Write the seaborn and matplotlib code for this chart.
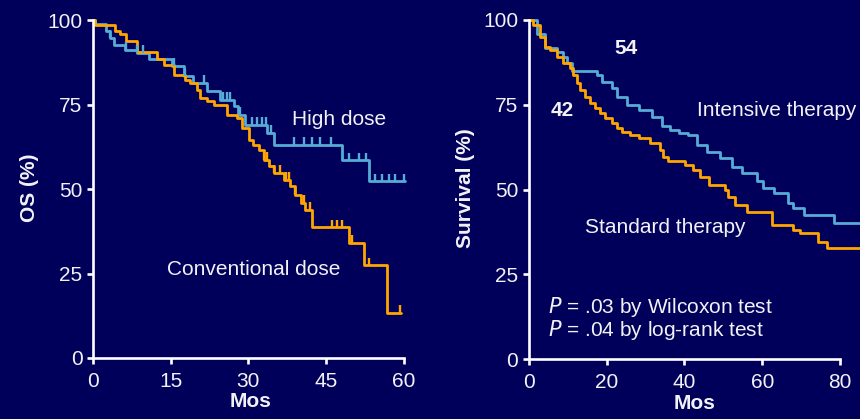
import numpy as np
import pandas as pd
import matplotlib
matplotlib.use("Agg")
import matplotlib.pyplot as plt
import seaborn as sns

# left panel: OS by dose (months, percent)
hd_t = [0, 0.5, 2.6, 3.3, 4.0, 6.2, 8.5, 10.8, 15.3, 17.5, 19.4, 22.0, 24.6, 27.2, 28.1, 29.4, 33.6, 34.9, 48.1, 53.3, 60.3]
hd_s = [100, 99, 96.7, 94.8, 92.8, 91.3, 90.3, 88.4, 86.4, 83.4, 81.4, 79, 76.5, 74.5, 72, 69.1, 66.6, 63.2, 58.5, 52.3, 52.3]
hd_cens = [3.3, 6.4, 8.6, 9.7, 15.6, 17.7, 21.5, 25.1, 25.9, 26.5, 28.3, 30.7, 31.7, 32.6, 33.5, 34.4,
           38.8, 40.7, 42.3, 43.9, 45.9, 49.4, 51.3, 52.8, 54.5, 55.8, 57.1, 58.4, 60.0]

cd_t = [0, 0.5, 4.3, 5.3, 6.4, 8.5, 12.4, 13.7, 15.6, 17.8, 18.8, 20.1, 20.7, 22.0, 23.3, 25.9, 27.8, 28.8,
        30.1, 31.0, 32.0, 33.0, 33.9, 34.9, 36.8, 38.1, 39.1, 40.1, 41.0, 42.3, 49.4, 52.3, 56.7, 59.4]
cd_s = [100, 98.7, 96.7, 95.8, 93.8, 90.6, 88.4, 86.9, 83.9, 82.4, 81.4, 79.5, 77, 76, 75, 72, 71.1, 68.1,
        64.7, 63.2, 61.7, 58.7, 56.8, 54.8, 52.8, 50.8, 48.4, 45.9, 43.9, 38.7, 34.1, 27.4, 13.3, 13.3]
cd_cens = [33.0, 33.6, 34.9, 36.2, 37.2, 37.8, 39.1, 40.7, 42.0, 46.2, 47.2, 48.1, 50.0, 53.3, 59.2]

# right panel: survival by therapy
it_t = [0, 2.1, 4.2, 7.2, 8.9, 9.8, 11.0, 17.5, 18.8, 21.3, 22.6, 25.2, 28.2, 31.6, 34.2, 36.3, 38.5, 41.0,
        43.2, 45.7, 49.2, 52.2, 54.7, 58.6, 60.3, 62.9, 66.7, 68.0, 70.6, 78.3, 85.1]
it_s = [100, 96, 91.6, 90.7, 89.2, 87.2, 85, 83.8, 81.8, 79.9, 77.4, 74.9, 73.5, 71.5, 68.6, 67.6, 66.6, 66.1,
        63.2, 61.2, 59.2, 56.8, 54.8, 52.4, 50.4, 48.9, 46, 44.5, 42.5, 40.1, 40.1]

st_t = [0, 1.2, 2.9, 4.2, 5.5, 7.2, 8.9, 10.6, 11.5, 12.3, 13.2, 14.5, 15.8, 17.0, 18.3, 19.6, 21.3, 22.6,
        23.9, 26.0, 28.2, 31.2, 33.7, 34.6, 35.9, 40.2, 42.3, 44.0, 46.2, 50.4, 51.3, 53.0, 56.0, 62.4, 68.0,
        69.7, 74.4, 76.6, 85.1]
st_s = [100, 98.5, 95, 92.1, 91.2, 89.2, 87.2, 85.8, 83.8, 81.3, 79.4, 77.4, 75.4, 74, 72.5, 71, 69.5, 68.1,
        67.1, 66.1, 65.1, 63.7, 61.7, 59.7, 58.3, 57.3, 55.8, 53.8, 51.4, 49.9, 47.9, 45.5, 43.5, 39.6, 38.1,
        37.1, 34.7, 32.7, 32.7]

bg = "#00005a"
blue = "#56acd6"
orange = "#ffa500"
fg = "#f2f2f6"
fs = 15

sns.set_style("ticks", {"axes.facecolor": bg, "figure.facecolor": bg})
plt.rcParams["font.family"] = ["Liberation Sans", "DejaVu Sans"]
plt.rcParams["text.color"] = fg

fig = plt.figure(figsize=(8.6, 4.19), dpi=100)
ax1 = fig.add_axes([0.108, 0.1456, 0.3675, 0.814])
ax2 = fig.add_axes([0.6148, 0.1425, 0.3852, 0.818])


def km(ax, t, s, color):
    d = pd.DataFrame({"t": t, "s": s})
    sns.lineplot(data=d, x="t", y="s", ax=ax, color=color, lw=2.0,
                 drawstyle="steps-post", estimator=None, sort=False)


def censor(ax, t, s, cens, color):
    idx = np.searchsorted(t, cens, side="right") - 1
    y = np.array(s)[idx]
    ax.vlines(cens, y, y + 2.3, color=color, lw=1.7)


km(ax1, hd_t, hd_s, blue)
km(ax1, cd_t, cd_s, orange)
censor(ax1, hd_t, hd_s, hd_cens, blue)
censor(ax1, cd_t, cd_s, cd_cens, orange)

km(ax2, it_t, it_s, blue)
km(ax2, st_t, st_s, orange)

ax1.set_xlim(0, 61)
ax1.set_ylim(0, 101)
ax1.set_xticks([0, 15, 30, 45, 60])
ax1.spines["bottom"].set_bounds(0, 60)
ax1.set_ylabel("OS (%)", fontsize=fs, fontweight="bold", color=fg, labelpad=6)

ax2.set_xlim(0, 85.1)
ax2.set_ylim(0, 101)
ax2.set_xticks([0, 20, 40, 60, 80])
ax2.spines["bottom"].set_bounds(0, 80)
ax2.set_ylabel("Survival (%)", fontsize=fs, fontweight="bold", color=fg, labelpad=6)

for ax in (ax1, ax2):
    ax.set_yticks([0, 25, 50, 75, 100])
    ax.spines["left"].set_bounds(0, 100)
    for sp in ("left", "bottom"):
        ax.spines[sp].set_color("white")
        ax.spines[sp].set_linewidth(1.9)
    for sp in ("top", "right"):
        ax.spines[sp].set_visible(False)
    ax.tick_params(colors="white", labelcolor=fg, labelsize=fs, width=1.9, length=4.5, pad=3)
    ax.tick_params(axis="x", pad=5.5)
    ax.set_xlabel("Mos", fontsize=fs, fontweight="bold", color=fg, labelpad=1)
    ax.set_facecolor(bg)

ax1.text(47.6, 70.6, "High dose", fontsize=fs, ha="center", va="center")
ax1.text(31, 26.1, "Conventional dose", fontsize=fs, ha="center", va="center")

ax2.text(25, 91.7, "54", fontsize=fs, fontweight="bold", ha="center", va="center")
ax2.text(8.5, 73.4, "42", fontsize=fs, fontweight="bold", ha="center", va="center")
ax2.text(43.2, 73.2, "Intensive therapy", fontsize=fs, ha="left", va="center")
ax2.text(14.5, 38.7, "Standard therapy", fontsize=fs, ha="left", va="center")
ax2.text(5.0, 15.3, r"$\mathit{P}$ = .03 by Wilcoxon test", fontsize=fs, ha="left", va="center")
ax2.text(5.0, 8.5, r"$\mathit{P}$ = .04 by log-rank test", fontsize=fs, ha="left", va="center")

fig.savefig("out.png", dpi=100, facecolor=bg)
